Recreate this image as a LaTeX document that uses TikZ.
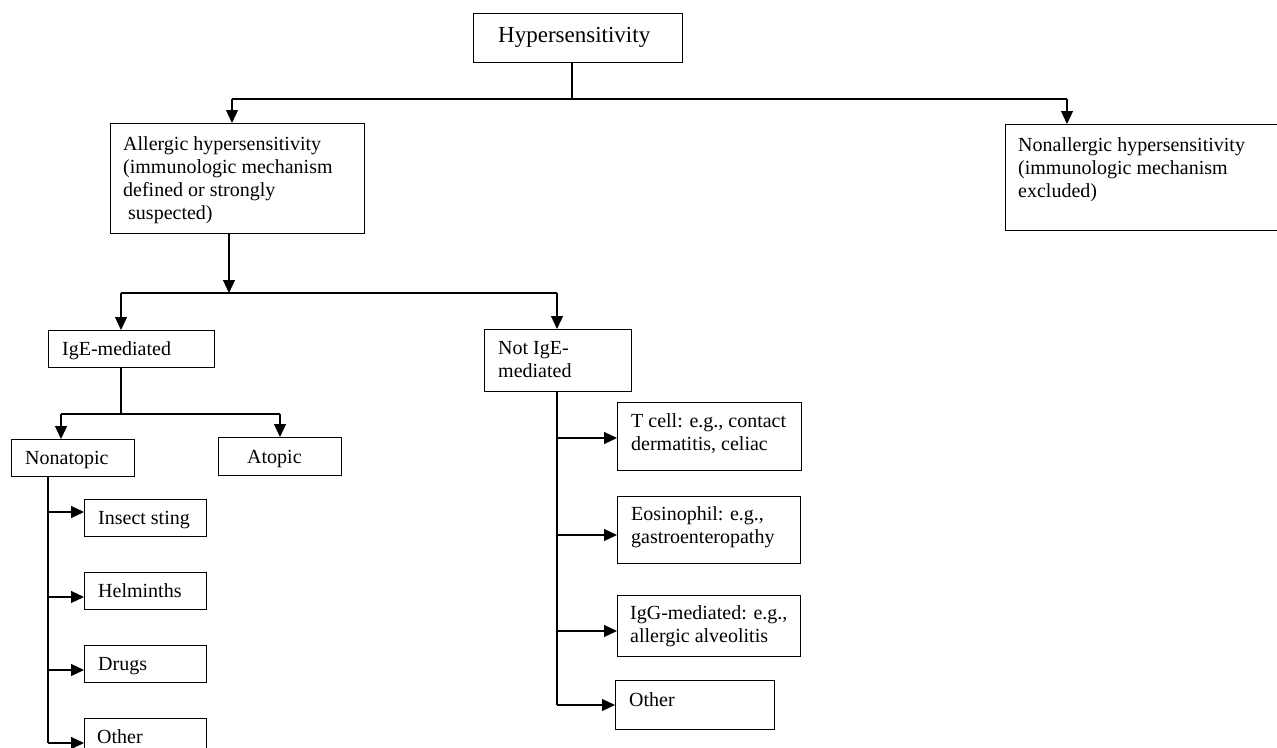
\documentclass[tikz,border=0pt]{standalone}
\usepackage{fontspec}
\setmainfont{Liberation Serif}
\usetikzlibrary{arrows.meta}
\begin{document}
\begin{tikzpicture}[x=1pt,y=-1pt,
  box/.style={draw, line width=1.2pt, inner sep=0pt, anchor=north west},
  txt/.style={inner sep=0pt, anchor=base west, font=\fontsize{20}{23}\selectfont},
  mtxt/.style={inner sep=0pt, anchor=north west, align=left, font=\fontsize{20}{23}\selectfont},
  conn/.style={line width=1.2pt},
  arr/.style={conn, -{Triangle[length=13pt,width=12pt]}}]
\useasboundingbox (0,0) rectangle (1277,747);
\clip (0,0) rectangle (1277,747);

% boxes
\node[box, minimum width=209pt, minimum height=49pt] (hyp) at (473,13) {};
\node[box, minimum width=254pt, minimum height=110pt] (allergic) at (110,123) {};
\node[box, minimum width=290pt, minimum height=106pt] (nonallergic) at (1005,124) {};
\node[box, minimum width=166pt, minimum height=37pt] (ige) at (48,330) {};
\node[box, minimum width=147pt, minimum height=62pt] (notige) at (484,329) {};
\node[box, minimum width=123pt, minimum height=37pt] (nonatopic) at (11,439) {};
\node[box, minimum width=123pt, minimum height=38pt] (atopic) at (218,437) {};
\node[box, minimum width=122pt, minimum height=37pt] (insect) at (84,499) {};
\node[box, minimum width=122pt, minimum height=37pt] (helm) at (84,572) {};
\node[box, minimum width=122pt, minimum height=37pt] (drugs) at (84,645) {};
\node[box, minimum width=122pt, minimum height=45pt] (otherA) at (84,718) {};
\node[box, minimum width=184pt, minimum height=68pt] (tcell) at (617,402) {};
\node[box, minimum width=183pt, minimum height=67pt] (eos) at (617,496) {};
\node[box, minimum width=183pt, minimum height=61pt] (igg) at (617,595) {};
\node[box, minimum width=159pt, minimum height=49pt] (otherB) at (615,680) {};

% texts
\node[txt, font=\fontsize{23}{28}\selectfont] (hypt) at (498,42) {Hypersensitivity};
\node[mtxt] (allergict) at (123,134)
  {\rule{0pt}{16pt}Allergic hypersensitivity\\(immunologic mechanism\\defined or strongly\\\hspace{5pt}suspected)};
\node[mtxt] (nonallergict) at (1018,135)
  {\rule{0pt}{16pt}Nonallergic hypersensitivity\\(immunologic mechanism\\excluded)};
\node[txt] (iget) at (62,355) {IgE-mediated};
\node[mtxt] (notiget) at (498,338) {\rule{0pt}{16pt}Not IgE-\\mediated};
\node[txt] (nonatopict) at (25,464) {Nonatopic};
\node[txt] (atopict) at (247,463) {Atopic};
\node[txt] (insectt) at (98,524) {Insect sting};
\node[txt] (helmt) at (98,597) {Helminths};
\node[txt] (drugst) at (98,670) {Drugs};
\node[txt] (otherAt) at (97,743) {Other};
\node[mtxt] (tcellt) at (631,411) {\rule{0pt}{16pt}T cell: e.g., contact\\dermatitis, celiac};
\node[mtxt] (eost) at (631,504) {\rule{0pt}{16pt}Eosinophil: e.g.,\\gastroenteropathy};
\node[mtxt] (iggt) at (630,603) {\rule{0pt}{16pt}IgG-mediated: e.g.,\\allergic alveolitis};
\node[txt] (otherBt) at (629,706) {Other};

% connectors: level 1
\coordinate (j1) at (572,99);
\coordinate (j1l) at (232,99);
\coordinate (j1r) at (1067,99);
\draw[conn] (hyp.south -| j1) -- (j1);
\draw[conn] (j1l) -- (j1r);
\draw[arr] (j1l) -- (j1l |- allergic.north);
\draw[arr] (j1r) -- (j1r |- nonallergic.north);

% level 2
\coordinate (j2) at (229,293);
\coordinate (j2l) at (121,293);
\coordinate (j2r) at (557,293);
\draw[arr] (allergic.south -| j2) -- (j2);
\draw[conn] (j2l) -- (j2r);
\draw[arr] (j2l) -- (j2l |- ige.north);
\draw[arr] (j2r) -- (j2r |- notige.north);

% level 3
\coordinate (j3) at (121,414);
\coordinate (j3l) at (61,414);
\coordinate (j3r) at (280,414);
\draw[conn] (ige.south -| j3) -- (j3);
\draw[conn] (j3l) -- (j3r);
\draw[arr] (j3l) -- (j3l |- nonatopic.north);
\draw[arr] (j3r) -- (j3r |- atopic.north);

% nonatopic branches
\coordinate (n1) at (48,512);
\coordinate (n2) at (48,597);
\coordinate (n3) at (48,670);
\coordinate (n4) at (48,743);
\draw[conn] (nonatopic.south -| n1) -- (n4);
\draw[arr] (n1) -- (n1 -| insect.west);
\draw[arr] (n2) -- (n2 -| helm.west);
\draw[arr] (n3) -- (n3 -| drugs.west);
\draw[arr] (n4) -- (n4 -| otherA.west);

% not IgE branches
\coordinate (m1) at (557,438);
\coordinate (m2) at (557,535);
\coordinate (m3) at (557,631);
\coordinate (m4) at (557,705);
\draw[conn] (notige.south -| m1) -- (m4);
\draw[arr] (m1) -- (m1 -| tcell.west);
\draw[arr] (m2) -- (m2 -| eos.west);
\draw[arr] (m3) -- (m3 -| igg.west);
\draw[arr] (m4) -- (m4 -| otherB.west);
\end{tikzpicture}
\end{document}
